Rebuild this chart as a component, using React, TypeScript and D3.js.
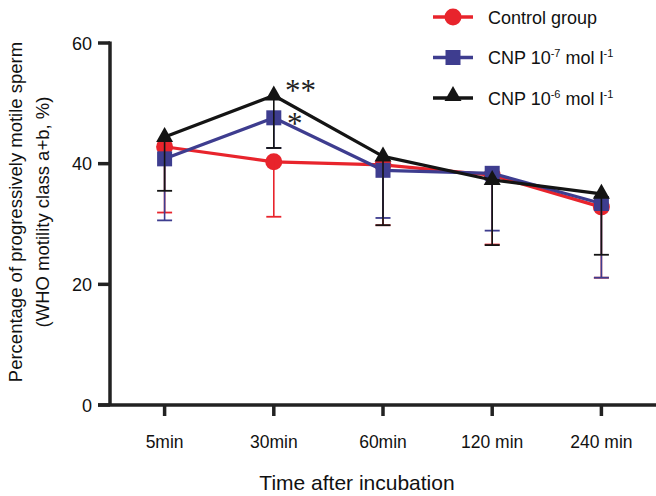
import React from "react";
import * as d3 from "d3";

const categories = ["5min", "30min", "60min", "120 min", "240 min"];
const controlMean = [42.8, 40.3, 39.8, 38.1, 32.8];
const controlLower = [31.9, 31.2, 29.8, 26.6, 21.1];
const cnp7Mean = [40.8, 47.6, 38.9, 38.4, 33.4];
const cnp7Lower = [30.6, 42.6, 31.0, 28.9, 21.1];
const cnp6Mean = [44.4, 51.3, 41.2, 37.3, 35.0];
const cnp6Lower = [35.5, 42.6, 29.8, 26.5, 24.9];
const yTicks = [0, 20, 40, 60];

const RED = "#e8242c";
const BLUE = "#3e3d8f";
const BLACK = "#141414";

type Series = { name: string; mean: number[]; lower: number[]; color: string; shape: string };
const series: Series[] = [
  { name: "control", mean: controlMean, lower: controlLower, color: RED, shape: "circle" },
  { name: "cnp7", mean: cnp7Mean, lower: cnp7Lower, color: BLUE, shape: "square" },
  { name: "cnp6", mean: cnp6Mean, lower: cnp6Lower, color: BLACK, shape: "triangle" },
];

function Marker({ shape, cx, cy, color }: { shape: string; cx: number; cy: number; color: string }) {
  if (shape === "circle") return <circle cx={cx} cy={cy} r={8.5} fill={color} />;
  if (shape === "square") return <rect x={cx - 7.5} y={cy - 7.5} width={15} height={15} fill={color} />;
  return <path d={`M${cx},${cy - 10}L${cx + 8.5},${cy + 5}L${cx - 8.5},${cy + 5}Z`} fill={color} />;
}

export default function App() {
  const W = 656, H = 496;
  const x = d3.scalePoint<string>().domain(categories).range([110, 656]).padding(0.5);
  const y = d3.scaleLinear().domain([0, 60]).range([405, 43]);
  const line = d3.line<number>().x((_, i) => x(categories[i]) as number).y((d) => y(d));
  const font = "Liberation Sans, Arial, Helvetica, sans-serif";
  const axisColor = "#222";

  return (
    <svg width={W} height={H} style={{ position: "absolute", left: 0, top: 0, background: "#fff" }} fontFamily={font}>
      <rect width={W} height={H} fill="#fff" />
      {/* Y axis */}
      <line x1={110} x2={110} y1={y(60) - 1.5} y2={y(0)} stroke={axisColor} strokeWidth={3.5} />
      {yTicks.map((t) => (
        <g key={t}>
          <line x1={98} x2={110} y1={y(t)} y2={y(t)} stroke={axisColor} strokeWidth={3.5} />
          <text x={92} y={y(t) + 6.5} textAnchor="end" fontSize={18} fill="#111">{t}</text>
        </g>
      ))}
      {/* X axis */}
      <line x1={98} x2={656} y1={y(0)} y2={y(0)} stroke={axisColor} strokeWidth={3.5} />
      {categories.map((c) => (
        <g key={c}>
          <line x1={x(c)} x2={x(c)} y1={y(0)} y2={y(0) + 11} stroke={axisColor} strokeWidth={3.5} />
          <text x={x(c)} y={448} textAnchor="middle" fontSize={17.5} fill="#111">{c}</text>
        </g>
      ))}
      <text x={357} y={490} textAnchor="middle" fontSize={21} fill="#111">Time after incubation</text>
      <g transform="translate(22,212) rotate(-90)">
        <text x={0} y={0} textAnchor="middle" fontSize={18.5} fill="#111">Percentage of progressively motile sperm</text>
        <text x={0} y={27} textAnchor="middle" fontSize={18.5} fill="#111">(WHO motility class a+b, %)</text>
      </g>

      {/* Series */}
      {series.map((s) => (
        <g key={s.name}>
          <path d={line(s.mean) || ""} fill="none" stroke={s.color} strokeWidth={3.2} strokeLinejoin="round" />
          {s.mean.map((v, i) => (
            <Marker key={i} shape={s.shape} cx={x(categories[i]) as number} cy={y(v)} color={s.color} />
          ))}
          {s.mean.map((v, i) => {
            const cx = x(categories[i]) as number;
            return (
              <g key={"e" + i}>
                <line x1={cx} x2={cx} y1={y(v)} y2={y(s.lower[i])} stroke={s.color} strokeWidth={1.6} />
                <line x1={cx - 7.5} x2={cx + 7.5} y1={y(s.lower[i])} y2={y(s.lower[i])} stroke={s.color} strokeWidth={1.8} />
              </g>
            );
          })}
        </g>
      ))}

      {/* Significance marks */}
      <text x={285} y={101} fontSize={31} fontFamily="Liberation Serif, Times New Roman, serif" fill="#222">**</text>
      <text x={287} y={134} fontSize={31} fontFamily="Liberation Serif, Times New Roman, serif" fill="#222">*</text>

      {/* Legend */}
      {series.map((s, i) => {
        const ly = 17 + i * 40.5;
        return (
          <g key={"l" + s.name}>
            <line x1={433} x2={473} y1={ly} y2={ly} stroke={s.color} strokeWidth={3.5} />
            <Marker shape={s.shape} cx={453} cy={s.shape === "triangle" ? ly - 2 : ly} color={s.color} />
          </g>
        );
      })}
      <text x={488} y={23.5} fontSize={18} fill="#111">Control group</text>
      <text x={488} y={64} fontSize={18} fill="#111">
        CNP 10<tspan fontSize={11} dy={-7}>-7</tspan><tspan dy={7}> mol l</tspan><tspan fontSize={11} dy={-7}>-1</tspan>
      </text>
      <text x={488} y={104.5} fontSize={18} fill="#111">
        CNP 10<tspan fontSize={11} dy={-7}>-6</tspan><tspan dy={7}> mol l</tspan><tspan fontSize={11} dy={-7}>-1</tspan>
      </text>
    </svg>
  );
}
